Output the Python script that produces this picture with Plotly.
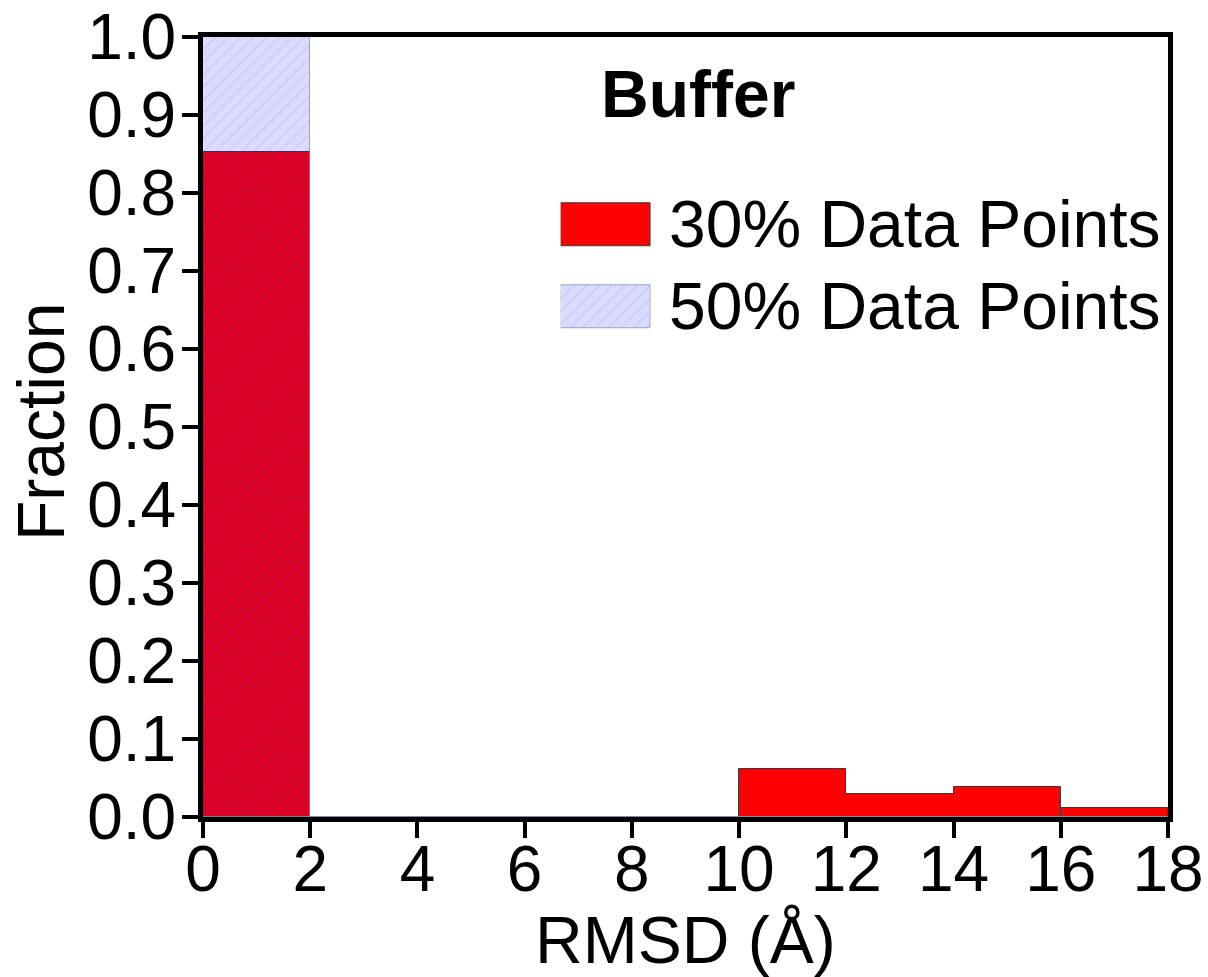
import plotly.graph_objects as go

# RMSD histogram bins (centres, Å) and the fraction of structures in each bin
bin_centers = [1, 3, 5, 7, 9, 11, 13, 15, 17]
bin_width = 2
frac_30 = [0.852, 0, 0, 0, 0, 0.062, 0.029, 0.039, 0.012]
frac_50 = [1.0, 0, 0, 0, 0, 0, 0, 0, 0]

x_ticks = [0, 2, 4, 6, 8, 10, 12, 14, 16, 18]
y_ticks = [0.0, 0.1, 0.2, 0.3, 0.4, 0.5, 0.6, 0.7, 0.8, 0.9, 1.0]
series_names = ["30% Data Points", "50% Data Points"]
panel_title = "Buffer"
x_title = "RMSD (Å)"
y_title = "Fraction"

FONT = "Arial, 'Liberation Sans', sans-serif"

style_30 = dict(color="#FF0000", line=dict(color="#3a3a3a", width=1))
style_50 = dict(
    color="rgba(0,0,255,0.14)",
    line=dict(color="rgba(140,140,170,0.8)", width=1),
    pattern=dict(shape="/", fgcolor="rgba(90,90,150,0.35)", size=9, solidity=0.12),
)

fig = go.Figure()

fig.add_trace(go.Bar(x=bin_centers, y=frac_30, width=bin_width, name=series_names[0],
                     marker=style_30, showlegend=False))
fig.add_trace(go.Bar(x=bin_centers, y=frac_50, width=bin_width, name=series_names[1],
                     marker=style_50, showlegend=False))

# Legend keys: large swatches drawn on a small hidden axis pair
key_rows = [0, 1]
for row, name, style in zip(key_rows, series_names, [style_30, style_50]):
    fig.add_trace(go.Bar(x=[1], y=[row], orientation="h", width=0.528, base=0,
                         marker=style, xaxis="x2", yaxis="y2", showlegend=False,
                         hoverinfo="skip"))

px_l, px_r, px_t, px_b = 203, 1168, 37, 817
W, H = px_r - px_l, px_b - px_t


def px_x(p):
    return (p - px_l) / W


def px_y(p):
    return (px_b - p) / H


annotations = [
    dict(text=f"<b>{panel_title}</b>", x=px_x(698), y=px_y(94), xref="paper", yref="paper",
         xanchor="center", yanchor="middle", showarrow=False,
         font=dict(family=FONT, size=66, color="black")),
    dict(text=x_title, x=px_x(685), y=px_y(940), xref="paper", yref="paper",
         xanchor="center", yanchor="middle", showarrow=False,
         font=dict(family=FONT, size=66, color="black")),
    dict(text=y_title, x=px_x(41), y=px_y(422), xref="paper", yref="paper",
         xanchor="center", yanchor="middle", textangle=-90, showarrow=False,
         font=dict(family=FONT, size=66, color="black")),
]
for name, cy in zip(series_names, [224, 305.5]):
    annotations.append(dict(text=name, x=px_x(667), y=px_y(cy), xref="paper", yref="paper",
                            xanchor="left", yanchor="middle", showarrow=False,
                            font=dict(family=FONT, size=66, color="black")))

axis_common = dict(
    showline=True, linecolor="black", linewidth=5, mirror=True,
    ticks="outside", ticklen=16, tickwidth=4, tickcolor="black",
    showgrid=False, zeroline=False, automargin=False,
    tickfont=dict(family=FONT, size=64, color="black"),
)

fig.update_layout(
    width=1208, height=977,
    margin=dict(l=px_l, r=1208 - px_r, t=px_t, b=977 - px_b, autoexpand=False),
    paper_bgcolor="white", plot_bgcolor="white",
    barmode="overlay", bargap=0,
    showlegend=False,
    xaxis=dict(range=[0, 18], tickvals=x_ticks, ticktext=[str(v) for v in x_ticks],
               ticklabelstandoff=-24, **axis_common),
    yaxis=dict(range=[0, 1.0], tickvals=y_ticks, ticktext=[f"{v:.1f}" for v in y_ticks],
               ticklabelstandoff=-7, **axis_common),
    xaxis2=dict(domain=[px_x(560.7), px_x(650.7)], range=[0, 1], visible=False,
                anchor="y2", fixedrange=True),
    yaxis2=dict(domain=[px_y(347.25), px_y(184.25)], range=[1.5, -0.5], visible=False,
                anchor="x2", fixedrange=True),
    annotations=annotations,
)

fig.write_html("out.html")
